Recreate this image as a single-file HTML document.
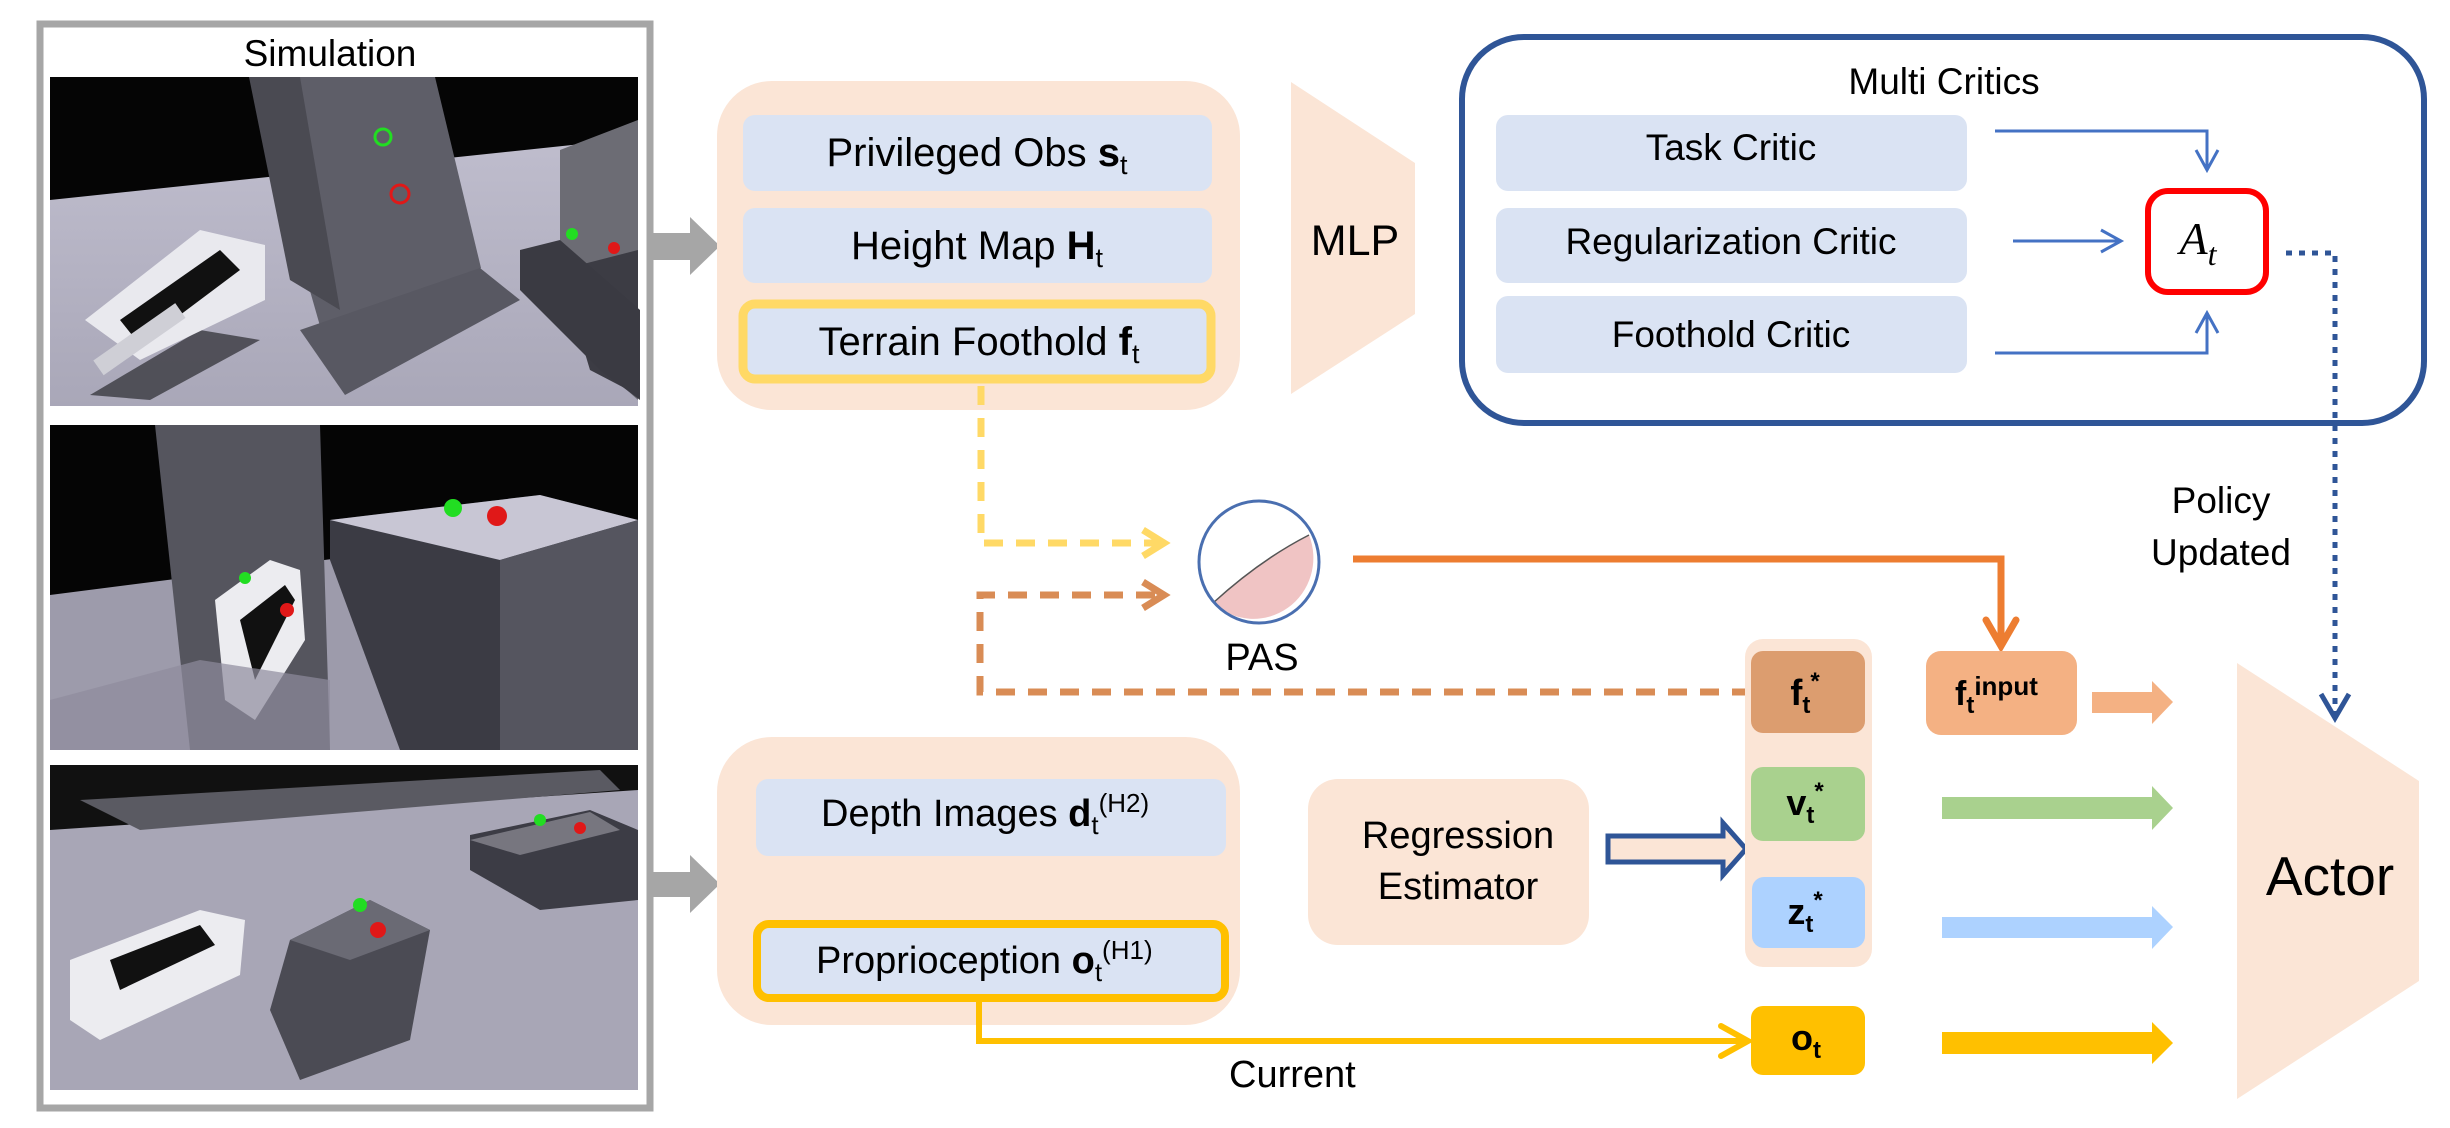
<!DOCTYPE html>
<html><head><meta charset="utf-8"><style>
html,body{margin:0;padding:0;background:#fff;}
svg{display:block;font-family:"Liberation Sans",Arial,sans-serif;}
</style></head><body>
<svg width="2450" height="1128" viewBox="0 0 2450 1128" xmlns="http://www.w3.org/2000/svg">
<defs>
<linearGradient id="fl" x1="0" y1="0" x2="0" y2="1"><stop offset="0" stop-color="#c4c2d2"/><stop offset="1" stop-color="#a9a7b8"/></linearGradient>
</defs>

<!-- Simulation frame -->
<rect x="40" y="24" width="610" height="1084" fill="#fff" stroke="#a6a6a6" stroke-width="7"/>
<text x="330" y="66" font-size="37" text-anchor="middle">Simulation</text>

<!-- Image 1 -->
<g>
<rect x="50" y="77" width="588" height="329" fill="url(#fl)"/>
<polygon points="50,77 638,77 638,138 50,200" fill="#050505"/>
<polygon points="560,150 638,120 638,400 560,330" fill="#6c6c74"/>
<polygon points="560,270 638,250 638,395 590,370" fill="#3c3c44"/>
<polygon points="249,77 435,77 481,268 332,368" fill="#5e5e68"/>
<polygon points="249,77 300,77 340,310 290,280" fill="#4a4a52"/>
<polygon points="300,330 480,268 520,300 345,395" fill="#585862"/>
<polygon points="520,250 560,240 640,310 640,400 600,370 520,290" fill="#3a3a42"/>
<circle cx="383" cy="137" r="8" fill="none" stroke="#22dd22" stroke-width="3"/>
<circle cx="400" cy="194" r="9" fill="none" stroke="#e01818" stroke-width="3"/>
<circle cx="572" cy="234" r="6" fill="#22dd22"/>
<circle cx="614" cy="248" r="6" fill="#e01818"/>
<polygon points="90,395 200,330 260,340 150,400" fill="#3a3a40" opacity="0.8"/>
<polygon points="85,320 200,230 265,245 265,300 140,360" fill="#e9e9ee"/>
<polygon points="120,320 220,250 240,270 140,345" fill="#111"/>
<rect x="90" y="330" width="100" height="18" fill="#cfcfd6" transform="rotate(-35 140 340)"/>
</g>

<!-- Image 2 -->
<g>
<rect x="50" y="425" width="588" height="325" fill="#9d9bab"/>
<polygon points="50,425 638,425 638,520 50,595" fill="#050505"/>
<polygon points="155,425 320,425 330,750 190,750" fill="#55555e"/>
<polygon points="330,520 540,495 638,520 638,750 400,750 330,560" fill="#3b3b44"/>
<polygon points="330,520 540,495 638,520 500,560" fill="#c8c6d4"/>
<polygon points="500,560 638,520 638,750 500,750" fill="#55555f"/>
<circle cx="453" cy="508" r="9" fill="#22dd22"/>
<circle cx="497" cy="516" r="10" fill="#e01818"/>
<polygon points="215,600 270,560 300,570 305,640 255,720 225,700" fill="#ececf0"/>
<polygon points="240,620 285,585 295,600 255,680" fill="#111"/>
<circle cx="287" cy="610" r="7" fill="#e01818"/>
<circle cx="245" cy="578" r="6" fill="#22dd22"/>
<polygon points="50,700 200,660 330,680 330,750 50,750" fill="#8e8c9c" opacity="0.7"/>
</g>

<!-- Image 3 -->
<g>
<rect x="50" y="765" width="588" height="325" fill="#a8a6b6"/>
<polygon points="50,765 638,765 638,790 50,830" fill="#111"/>
<polygon points="80,800 600,770 620,790 140,830" fill="#5a5a62"/>
<polygon points="470,835 590,810 638,830 638,900 540,910 470,870" fill="#3c3c45"/>
<polygon points="470,840 590,812 620,830 520,855" fill="#77767f"/>
<polygon points="290,940 370,900 430,930 410,1040 300,1080 270,1010" fill="#4b4b54"/>
<polygon points="290,940 370,900 430,930 350,960" fill="#6a6a74"/>
<circle cx="540" cy="820" r="6" fill="#22dd22"/>
<circle cx="580" cy="828" r="6" fill="#e01818"/>
<circle cx="360" cy="905" r="7" fill="#22dd22"/>
<circle cx="378" cy="930" r="8" fill="#e01818"/>
<polygon points="70,960 200,910 245,920 240,975 100,1040 70,1020" fill="#ececf0"/>
<polygon points="110,960 200,925 215,945 120,990" fill="#111"/>
</g>

<!-- grey arrows -->
<polygon points="650,233 690,233 690,217 720,246 690,275 690,260 650,260" fill="#a6a6a6"/>
<polygon points="650,872 690,872 690,855 720,884 690,913 690,897 650,897" fill="#a6a6a6"/>

<!-- Top peach box -->
<rect x="717" y="81" width="523" height="329" rx="55" fill="#fbe5d6"/>
<rect x="743" y="115" width="469" height="76" rx="12" fill="#dae3f3"/>
<text x="977" y="166" font-size="40" text-anchor="middle">Privileged Obs <tspan font-weight="bold">s</tspan><tspan font-size="27" dy="8">t</tspan></text>
<rect x="743" y="208" width="469" height="75" rx="12" fill="#dae3f3"/>
<text x="977" y="259" font-size="40" text-anchor="middle">Height Map <tspan font-weight="bold">H</tspan><tspan font-size="27" dy="8">t</tspan></text>
<rect x="743" y="304" width="468" height="75" rx="12" fill="#dae3f3" stroke="#ffd966" stroke-width="9"/>
<text x="979" y="355" font-size="40" text-anchor="middle">Terrain Foothold <tspan font-weight="bold">f</tspan><tspan font-size="27" dy="8">t</tspan></text>

<!-- MLP -->
<polygon points="1291,82 1415,163 1415,314 1291,394" fill="#fbe5d6"/>
<text x="1355" y="255" font-size="43" text-anchor="middle">MLP</text>

<!-- Multi Critics -->
<rect x="1462" y="37" width="962" height="386" rx="62" fill="#fff" stroke="#2f5597" stroke-width="6"/>
<text x="1944" y="94" font-size="37" text-anchor="middle">Multi Critics</text>
<rect x="1496" y="115" width="471" height="76" rx="12" fill="#dae3f3"/>
<text x="1731" y="160" font-size="37" text-anchor="middle">Task Critic</text>
<rect x="1496" y="208" width="471" height="75" rx="12" fill="#dae3f3"/>
<text x="1731" y="254" font-size="37" text-anchor="middle">Regularization Critic</text>
<rect x="1496" y="296" width="471" height="77" rx="12" fill="#dae3f3"/>
<text x="1731" y="347" font-size="37" text-anchor="middle">Foothold Critic</text>
<g stroke="#4472c4" stroke-width="3" fill="none">
<polyline points="1995,131 2207,131 2207,170"/>
<polyline points="2196,150 2207,170 2218,150"/>
<line x1="2013" y1="241" x2="2121" y2="241"/>
<polyline points="2101,230 2121,241 2101,252"/>
<polyline points="1995,353 2207,353 2207,313"/>
<polyline points="2196,333 2207,313 2218,333"/>
</g>
<rect x="2148" y="191" width="118" height="101" rx="20" fill="#fff" stroke="#ff0000" stroke-width="6"/>
<text x="2198" y="254" font-size="46" font-style="italic" font-family="Liberation Serif,serif" text-anchor="middle">A<tspan font-size="32" dy="11">t</tspan></text>

<!-- dotted policy update -->
<polyline points="2286,253 2335,253 2335,716" fill="none" stroke="#2f5597" stroke-width="5" stroke-dasharray="6,7"/>
<polyline points="2321,694 2335,718 2349,694" fill="none" stroke="#2f5597" stroke-width="5"/>
<text x="2221" y="513" font-size="37" text-anchor="middle">Policy</text>
<text x="2221" y="565" font-size="37" text-anchor="middle">Updated</text>

<!-- dashed yellow -->
<polyline points="981,386 981,543 1162,543" fill="none" stroke="#ffd966" stroke-width="7" stroke-dasharray="19,13"/>
<polyline points="1143,530 1164,543 1143,556" fill="none" stroke="#ffd966" stroke-width="7"/>
<!-- dashed orange -->
<polyline points="1751,692 980,692 980,595 1162,595" fill="none" stroke="#d98c55" stroke-width="7" stroke-dasharray="19,13"/>
<polyline points="1143,582 1164,595 1143,608" fill="none" stroke="#d98c55" stroke-width="7"/>

<!-- PAS -->
<ellipse cx="1259" cy="562" rx="60" ry="61" fill="#fff"/>
<path d="M1213,603 Q1260,560 1309,535 A60,61 0 0 1 1213,603 Z" fill="#f0c4c4"/>
<path d="M1213,603 Q1260,560 1309,535" fill="none" stroke="#555" stroke-width="1.5"/>
<ellipse cx="1259" cy="562" rx="60" ry="61" fill="none" stroke="#4a6fb0" stroke-width="3"/>
<text x="1262" y="670" font-size="38" text-anchor="middle">PAS</text>

<!-- orange solid -->
<polyline points="1353,559 2001,559 2001,646" fill="none" stroke="#ed7d31" stroke-width="7"/>
<polyline points="1986,620 2001,646 2016,620" fill="none" stroke="#ed7d31" stroke-width="7" stroke-linecap="round"/>

<!-- Bottom peach box -->
<rect x="717" y="737" width="523" height="288" rx="55" fill="#fbe5d6"/>
<rect x="756" y="779" width="470" height="77" rx="12" fill="#dae3f3"/>
<text x="821" y="826" font-size="38">Depth Images <tspan font-weight="bold">d</tspan><tspan font-size="26" dy="8">t</tspan><tspan font-size="26" dy="-22">(H2)</tspan></text>
<rect x="757" y="924" width="468" height="74" rx="12" fill="#dae3f3" stroke="#ffc000" stroke-width="8"/>
<text x="816" y="973" font-size="38">Proprioception <tspan font-weight="bold">o</tspan><tspan font-size="26" dy="8">t</tspan><tspan font-size="26" dy="-22">(H1)</tspan></text>

<!-- yellow current line -->
<polyline points="979,1002 979,1041 1748,1041" fill="none" stroke="#ffc000" stroke-width="6"/>
<polyline points="1721,1026 1748,1041 1721,1056" fill="none" stroke="#ffc000" stroke-width="6" stroke-linecap="round"/>
<text x="1229" y="1087" font-size="38">Current</text>

<!-- Regression estimator -->
<rect x="1308" y="779" width="281" height="166" rx="30" fill="#fbe5d6"/>
<text x="1458" y="848" font-size="38" text-anchor="middle">Regression</text>
<text x="1458" y="899" font-size="38" text-anchor="middle">Estimator</text>
<polygon points="1608,836 1723,836 1723,823 1746,849 1723,875 1723,862 1608,862" fill="#fbe5d6" stroke="#2f5597" stroke-width="5"/>

<!-- column -->
<rect x="1745" y="639" width="127" height="328" rx="18" fill="#fbe5d6"/>
<rect x="1751" y="651" width="114" height="82" rx="12" fill="#dc9d6f"/>
<text x="1805" y="705" font-size="36" font-weight="bold" text-anchor="middle">f<tspan font-size="24" dy="8">t</tspan><tspan font-size="24" dy="-24">*</tspan></text>
<rect x="1751" y="767" width="114" height="74" rx="12" fill="#a9d18e"/>
<text x="1805" y="815" font-size="36" font-weight="bold" text-anchor="middle">v<tspan font-size="24" dy="8">t</tspan><tspan font-size="24" dy="-24">*</tspan></text>
<rect x="1752" y="877" width="113" height="71" rx="12" fill="#add2ff"/>
<text x="1805" y="924" font-size="36" font-weight="bold" text-anchor="middle">z<tspan font-size="24" dy="8">t</tspan><tspan font-size="24" dy="-24">*</tspan></text>
<rect x="1751" y="1006" width="114" height="69" rx="12" fill="#ffc000"/>
<text x="1806" y="1050" font-size="36" font-weight="bold" text-anchor="middle">o<tspan font-size="24" dy="8">t</tspan></text>

<!-- f input -->
<rect x="1926" y="651" width="151" height="84" rx="15" fill="#f4b183"/>
<text x="1955" y="705" font-size="34" font-weight="bold">f<tspan font-size="24" dy="8">t</tspan><tspan font-size="26" dy="-18">input</tspan></text>

<!-- colored arrows -->
<polygon points="2092,692 2152,692 2152,681 2173,702 2152,724 2152,713 2092,713" fill="#f4b183"/>
<polygon points="1942,797 2152,797 2152,786 2173,808 2152,830 2152,819 1942,819" fill="#a9d18e"/>
<polygon points="1942,917 2152,917 2152,906 2173,927 2152,949 2152,938 1942,938" fill="#add2ff"/>
<polygon points="1942,1032 2152,1032 2152,1022 2173,1043 2152,1064 2152,1054 1942,1054" fill="#ffc000"/>

<!-- Actor -->
<polygon points="2237,663 2419,781 2419,981 2237,1099" fill="#fbe5d6"/>
<text x="2330" y="895" font-size="55" text-anchor="middle">Actor</text>
</svg>
</body></html>
